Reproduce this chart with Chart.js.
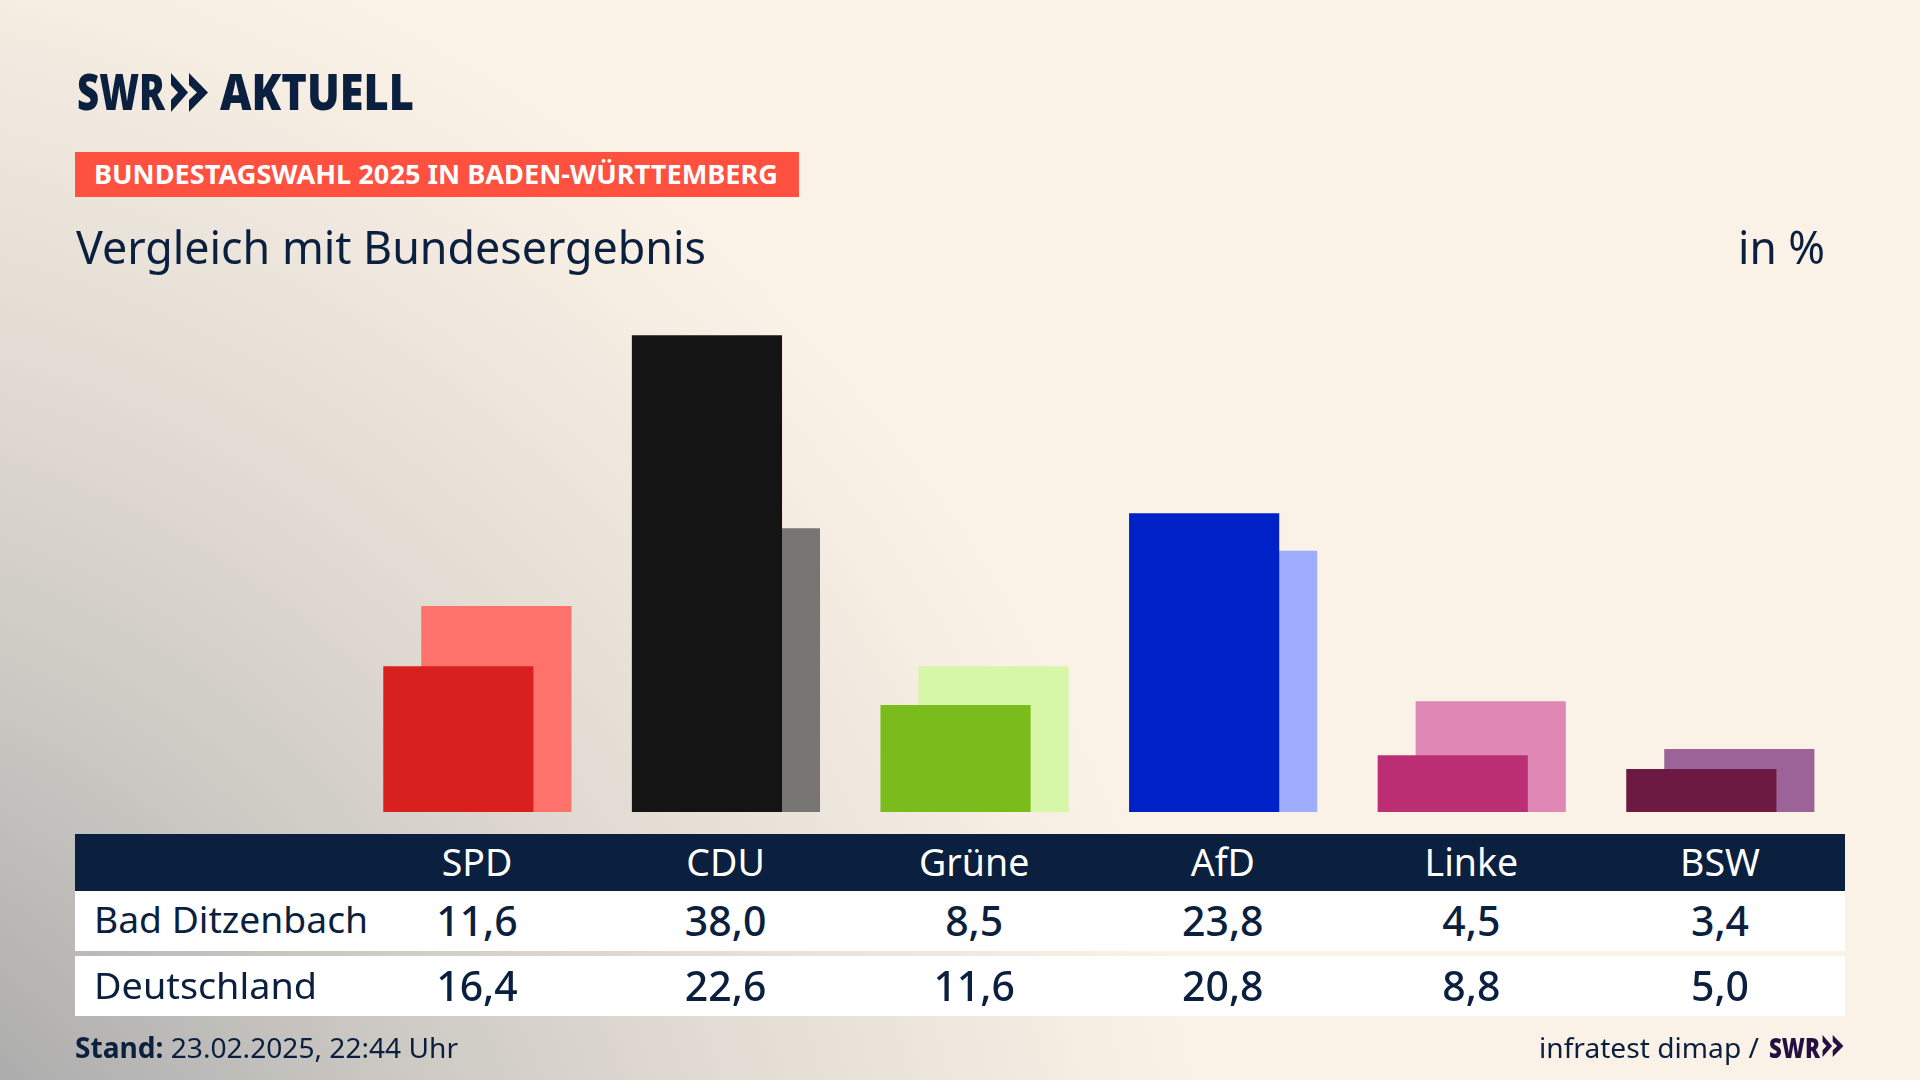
<!DOCTYPE html>
<html lang="de">
<head>
<meta charset="utf-8">
<title>Vergleich mit Bundesergebnis</title>
<script src="https://cdn.jsdelivr.net/npm/chart.js@4"></script>
<style>
    html, body { margin: 0; padding: 0; }
    #page {
        position: relative;
        width: 1920px;
        height: 1080px;
        overflow: hidden;
        background-color: #faf2e7;
        background-image: radial-gradient(circle 1530px at -300px 1380px, #adadad 27.7%, #cbc8c3 49%, #dfd9d1 67%, #ece5db 82%, #f6ede3 93%, #faf2e7 100%);
        font-family: "Noto Sans", sans-serif;
        color: #0b1f3e;
    }
    #myChart { position: absolute; left: 0; top: 0; }
    .txt { position: absolute; white-space: nowrap; line-height: 1; transform-origin: 0 0; }
    .box { position: absolute; }
</style>
</head>
<body>
<div id="page">
    <canvas id="myChart" width="1920" height="1080"></canvas>

    <!-- Kopf -->
    <div class="txt" data-w="88" style="left:77px;top:67px;font-size:49px;font-weight:900">SWR</div>
    <svg class="box" style="left:171px;top:73px" width="37" height="39" viewBox="0 0 37 39" fill="#0b1f3e">
        <polygon points="0,0 17,19.5 0,39 0,27 7,19.5 0,12"/>
        <polygon points="18,0 37,19.5 18,39 18,27 26,19.5 18,12"/>
    </svg>
    <div class="txt" data-w="194" style="left:220px;top:67px;font-size:49px;font-weight:900">AKTUELL</div>

    <div class="box" style="left:75px;top:152px;width:724px;height:45px;background:#ff5040"></div>
    <div class="txt" data-w="684" style="left:94px;top:161px;font-size:26px;font-weight:700;color:#fff">BUNDESTAGSWAHL 2025 IN BADEN-WÜRTTEMBERG</div>

    <div class="txt" data-w="630" style="left:76px;top:224px;font-size:45px">Vergleich mit Bundesergebnis</div>
    <div class="txt" data-w="87" style="left:1738px;top:224px;font-size:45px">in %</div>

    <!-- Tabelle -->
    <div class="box" style="left:75px;top:834px;width:1770px;height:57px;background:#0b1f3e"></div>
    <div class="box" style="left:75px;top:891px;width:1770px;height:60px;background:#fff"></div>
    <div class="box" style="left:75px;top:956px;width:1770px;height:60px;background:#fff"></div>
    <div id="table"></div>

    <!-- Fuss -->
    <div class="txt" data-w="383" style="left:75px;top:1033px;font-size:28px"><b>Stand:</b> 23.02.2025, 22:44 Uhr</div>
    <div class="txt" data-w="220" style="left:1539px;top:1033px;font-size:28px">infratest dimap /</div>
    <div class="txt" data-w="51" style="left:1769px;top:1033px;font-size:28px;font-weight:900;color:#25103f">SWR</div>
    <svg class="box" style="left:1822px;top:1035px" width="22" height="22" viewBox="0 0 37 39" fill="#25103f">
        <polygon points="0,0 17,19.5 0,39 0,27 7,19.5 0,12"/>
        <polygon points="18,0 37,19.5 18,39 18,27 26,19.5 18,12"/>
    </svg>
</div>

<script>
// Daten aus der Grafik
const parteien = ["SPD", "CDU", "Grüne", "AfD", "Linke", "BSW"];
const badDitzenbach = [11.6, 38.0, 8.5, 23.8, 4.5, 3.4];
const deutschland = [16.4, 22.6, 11.6, 20.8, 8.8, 5.0];
const farbenOrt = ["#d8201e", "#141414", "#79bc1c", "#0020c8", "#bc2f74", "#6c1a41"];
const farbenBund = ["#ff726b", "#777674", "#d6f6a8", "#9fadff", "#df87b5", "#9c6399"];

const versatz = 0.0764; // Balken gegeneinander verschoben, in Kategorie-Breiten

new Chart(document.getElementById("myChart"), {
    type: "bar",
    data: {
        datasets: [
            {
                label: "Bad Ditzenbach",
                data: badDitzenbach.map((v, i) => ({x: i - versatz, y: v})),
                backgroundColor: farbenOrt,
                order: 1
            },
            {
                label: "Deutschland",
                data: deutschland.map((v, i) => ({x: i + versatz, y: v})),
                backgroundColor: farbenBund,
                order: 2
            }
        ]
    },
    options: {
        responsive: false,
        animation: false,
        devicePixelRatio: 1,
        grouped: false,
        barThickness: 149.5,
        layout: {padding: {left: 75, right: 75, top: 310.4, bottom: 268}},
        plugins: {legend: {display: false}, tooltip: {enabled: false}},
        scales: {
            // offset aus, sonst stimmt der Abstand der Balken nicht
            x: {type: "linear", display: false, offset: false, min: -1.6185, max: 5.5015, grid: {display: false}},
            y: {display: false, min: 0, max: 40, grid: {display: false}}
        }
    }
});

// Tabelle aus denselben Arrays
const table = document.getElementById("table");

function addText(text, left, top, size, color, center) {
    const el = document.createElement("div");
    el.className = "txt";
    el.textContent = text;
    el.style.left = left + "px";
    el.style.top = top + "px";
    el.style.fontSize = size + "px";
    el.style.color = color;
    if (center) {
        el.dataset.center = "1";
    }
    table.appendChild(el);
    return el;
}

const zahl = v => v.toFixed(1).replace(".", ",");

parteien.forEach((name, i) => {
    const mitte = 477 + i * 248.6;
    addText(name, mitte, 843, 37.5, "#fff", true);
    addText(zahl(badDitzenbach[i]), mitte, 900, 41, "#0b1f3e", true).style.fontWeight = 500;
    addText(zahl(deutschland[i]), mitte, 965, 41, "#0b1f3e", true).style.fontWeight = 500;
});
addText("Bad Ditzenbach", 94, 900, 37, "#0b1f3e").dataset.w = 274;
addText("Deutschland", 94, 966, 37, "#0b1f3e").dataset.w = 223;

// Schrift ist breiter als das Original, daher horizontal anpassen
document.querySelectorAll(".txt").forEach(el => {
    const w = el.getBoundingClientRect().width;
    if (el.dataset.w) {
        el.style.transform = `scaleX(${el.dataset.w / w})`;
    } else if (el.dataset.center) {
        el.style.transform = "translateX(-50%)";
    }
});
</script>
</body>
</html>
